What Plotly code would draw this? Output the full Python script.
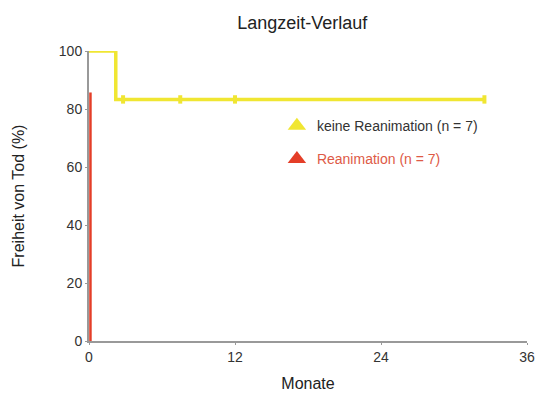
import plotly.graph_objects as go

# Kaplan-Meier step data
keine_months = [0, 2.2, 2.2, 32.5]
keine_surv = [100, 100, 83.3, 83.3]
keine_censor_months = [2.8, 7.5, 12.0, 32.5]
keine_censor_surv = [83.3, 83.3, 83.3, 83.3]

rean_months = [0.12, 0.12]
rean_surv = [85.7, 0]

x_ticks = [0, 12, 24, 36]
y_ticks = [0, 20, 40, 60, 80, 100]

YELLOW = "rgb(240,230,50)"
RED = "rgb(228,62,40)"

fig = go.Figure()
fig.add_trace(go.Scatter(x=keine_months, y=keine_surv, mode="lines",
                         line=dict(color=YELLOW, width=3.5), showlegend=False))
fig.add_trace(go.Scatter(x=keine_censor_months, y=keine_censor_surv, mode="markers",
                         marker=dict(symbol="line-ns-open", size=6, color=YELLOW,
                                     line=dict(color=YELLOW, width=4)),
                         showlegend=False))
fig.add_trace(go.Scatter(x=rean_months, y=rean_surv, mode="lines",
                         line=dict(color=RED, width=2.5), showlegend=False))
# legend entries
fig.add_trace(go.Scatter(x=[None], y=[None], mode="markers", legendgroup="a",
                         marker=dict(symbol="triangle-up", size=16, color=YELLOW),
                         name="<span style='color:#333'>keine Reanimation (n = 7)</span>"))
fig.add_trace(go.Scatter(x=[None], y=[None], mode="markers", legendgroup="b",
                         marker=dict(symbol="triangle-up", size=16, color=RED),
                         name="<span style='color:rgb(222,90,70)'>Reanimation (n = 7)</span>"))

fig.update_layout(
    width=550, height=413,
    margin=dict(l=81, r=31, t=43, b=80, autoexpand=False),
    paper_bgcolor="white", plot_bgcolor="white",
    font=dict(family="Liberation Sans, Arial, sans-serif", color="#333", size=14),
    title=dict(text="Langzeit-Verlauf", x=0.535, xanchor="center", y=0.965, yanchor="middle",
               font=dict(size=18, color="#222")),
    legend=dict(x=0.429, y=0.796, xanchor="left", yanchor="top", bgcolor="rgba(0,0,0,0)",
                font=dict(size=14), itemsizing="trace", tracegroupgap=12),
    xaxis=dict(range=[0, 36], tickvals=x_ticks, showgrid=False, zeroline=False,
               showline=True, linecolor="#999", linewidth=2, ticks="outside",
               ticklen=2, tickcolor="#999", automargin=False,
               title=dict(text="Monate", font=dict(size=16, color="#222"), standoff=14)),
    yaxis=dict(range=[0, 100], tickvals=y_ticks, showgrid=False, zeroline=False,
               showline=True, linecolor="#999", linewidth=2, ticks="outside",
               ticklen=2, tickcolor="#999", automargin=False,
               title=dict(text="Freiheit von Tod (%)", font=dict(size=16, color="#222"), standoff=30)),
)

fig.write_html("out.html")
